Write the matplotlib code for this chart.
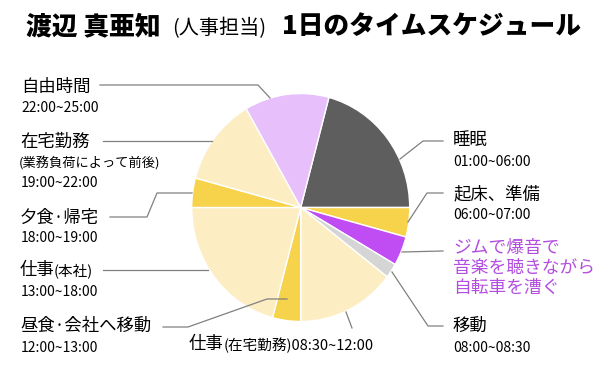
import matplotlib
matplotlib.use('Agg')
from matplotlib import pyplot as plt
from matplotlib.lines import Line2D

plt.rcParams['font.family'] = ['Noto Sans CJK JP', 'DejaVu Sans']

# 1日のスケジュール（01:00 から時計回り）
activities = ['睡眠', '起床、準備', 'ジム', '移動', '仕事(在宅勤務)', '昼食·会社へ移動',
              '仕事(本社)', '夕食·帰宅', '在宅勤務', '自由時間']
hours = [5, 1, 1, 0.5, 3.5, 1, 5, 1, 3, 3]
times = ['01:00~06:00', '06:00~07:00', '07:00~08:00', '08:00~08:30', '08:30~12:00',
         '12:00~13:00', '13:00~18:00', '18:00~19:00', '19:00~22:00', '22:00~25:00']
colors = ['#5e5e5e', '#f7d34b', '#c04cf3', '#d5d5d5', '#fcedc3',
          '#f7d34b', '#fcedc3', '#f7d34b', '#fcedc3', '#e6bffb']
start_hour = 1  # 最初の扇形の開始時刻

W, H = 597, 368
fig = plt.figure(figsize=(W / 100, H / 100), dpi=100)

def fx(px):
    return px / W

def fy(py):
    return 1 - py / H

# 円グラフ（中心 300.7,207.5 / 半径 横109 縦114）
cx, cy, rx, ry = 300.7, 207.5, 109, 114
ax = fig.add_axes([fx(cx - rx), fy(cy + ry), 2 * rx / W, 2 * ry / H])
ax.pie(hours, colors=colors, startangle=90 - start_hour * 360 / 24, counterclock=False,
       wedgeprops=dict(edgecolor='white', linewidth=1.0))
ax.set_aspect('auto')
ax.set_xlim(-1, 1)
ax.set_ylim(-1, 1)
ax.axis('off')

# タイトル
fig.text(fx(26), fy(26), '渡辺 真亜知', fontsize=18.5, fontweight='heavy', va='center', ha='left')
fig.text(fx(172), fy(28), '(人事担当)', fontsize=14.5, va='center', ha='left')
fig.text(fx(282), fy(26), '1日のタイムスケジュール', fontsize=18.5, fontweight='heavy',
         va='center', ha='left')

# 引き出し線
leaders = [
    [(100, 85), (258, 85), (270, 98)],
    [(103, 141), (212, 141)],
    [(110, 217), (147, 217), (157, 193), (192, 193)],
    [(103, 270), (208, 270)],
    [(163, 327), (188, 327), (267, 299), (287, 299)],
    [(346, 312), (352, 328)],
    [(443, 141), (423, 141), (400, 159)],
    [(443, 193), (427, 193), (408, 222)],
    [(443, 251), (402, 252)],
    [(443, 326), (428, 326), (392, 272)],
]
for pts in leaders:
    xs = [fx(p[0]) for p in pts]
    ys = [fy(p[1]) for p in pts]
    fig.add_artist(Line2D(xs, ys, color='#808080', linewidth=0.9))

big = 12.5
small = 9.5
tsize = 10

def txt(px, py, s, size, **kw):
    fig.text(fx(px), fy(py), s, fontsize=size, va='center', ha='left', **kw)

# 左側
txt(21, 87, activities[9], big)
txt(21, 108, times[9], tsize)
txt(20, 142, activities[8], big)
txt(19, 163, '(業務負荷によって前後)', small)
txt(21, 183, times[8], tsize)
txt(20, 218, activities[7], big)
txt(21, 238, times[7], tsize)
txt(20, 270, '仕事', big)
txt(54, 271, '(本社)', 10.5)
txt(21, 292, times[6], tsize)
txt(20, 326, activities[5], big)
txt(21, 348, times[5], tsize)

# 下
txt(189, 344, '仕事', big)
txt(224, 345, '(在宅勤務)' + times[4], 10.5)

# 右側
txt(453, 140, activities[0], big)
txt(453, 162, times[0], tsize)
txt(453, 194, activities[1], big)
txt(453, 215, times[1], tsize)
txt(453, 268, 'ジムで爆音で\n音楽を聴きながら\n自転車を漕ぐ', 12.8,
    color='#b44ee0', linespacing=1.12)
txt(453, 326, activities[3], big)
txt(453, 348, times[3], tsize)

fig.savefig('out.png', dpi=100)
